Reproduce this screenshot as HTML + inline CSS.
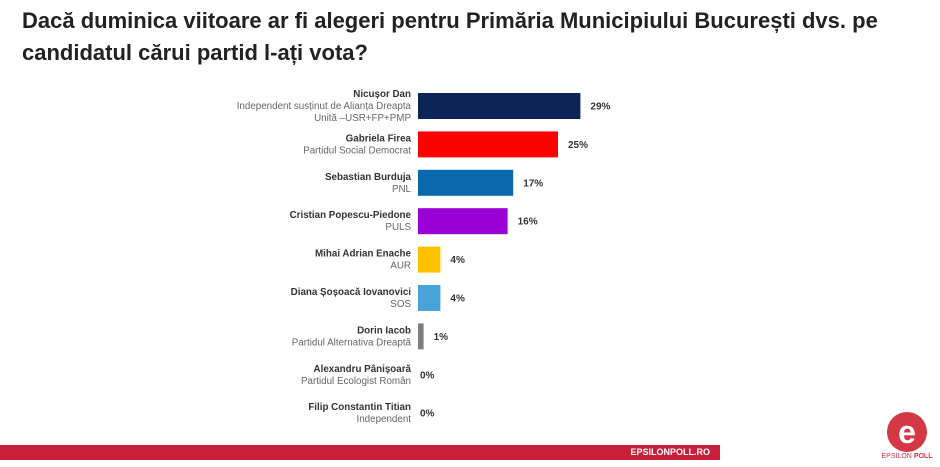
<!DOCTYPE html>
<html><head><meta charset="utf-8"><style>
body{margin:0;width:940px;height:467px;background:#fff;overflow:hidden;font-family:"Liberation Sans",sans-serif;position:relative}
h1{position:absolute;left:22px;top:5px;margin:0;font-size:22px;line-height:32px;font-weight:bold;color:#222;width:900px}
</style></head><body>
<h1>Dacă duminica viitoare ar fi alegeri pentru Primăria Municipiului București dvs. pe candidatul cărui partid l-ați vota?</h1>
<svg id="c" width="940" height="467" style="position:absolute;left:0;top:0"></svg>
<script>
const names=["Nicușor Dan","Gabriela Firea","Sebastian Burduja","Cristian Popescu-Piedone","Mihai Adrian Enache","Diana Șoșoacă Iovanovici","Dorin Iacob","Alexandru Pânișoară","Filip Constantin Titian"];
const parties=[["Independent susținut de Alianța Dreapta","Unită –USR+FP+PMP"],["Partidul Social Democrat"],["PNL"],["PULS"],["AUR"],["SOS"],["Partidul Alternativa Dreaptă"],["Partidul Ecologist Român"],["Independent"]];
const values=[29,25,17,16,4,4,1,0,0];
const colors=["#0d2456","#fe0000","#0a69ae","#9900d6","#ffc000","#4aa3d8","#7f7f7f","#999","#999"];
const svg=document.getElementById('c');const NS='http://www.w3.org/2000/svg';
const x0=418,k=5.6,y0=106,dy=38.4,bh=26;
const xs=v=>v*k, ys=i=>y0+i*dy;
function mk(t,a,txt){const e=document.createElementNS(NS,t);for(const q in a)e.setAttribute(q,a[q]);if(txt!=null)e.textContent=txt;svg.appendChild(e);return e;}
values.forEach((v,i)=>{
 const cy=ys(i);
 const lines=parties[i];
 const top=cy-(lines.length*12+12)/2+9;
 const n=mk('text',{x:411,y:top,'text-anchor':'end','font-size':9.8,'font-weight':'bold',fill:'#333'},names[i]);
 
 
 lines.forEach((l,j)=>{const p=mk('text',{x:411,y:top+12*(j+1),'text-anchor':'end','font-size':9.8,fill:'#666'},l);
  
  });
 if(v>0){const r=mk('rect',{x:x0,y:cy-bh/2,width:xs(v),height:bh,fill:colors[i]});
  
  }
 const t=mk('text',{x:x0+xs(v)+(v>0?10:2),y:cy+3.5,'font-size':10,'font-weight':'bold',fill:'#333'},v+'%');
 
 
});
</script>
<div style="position:absolute;left:0;top:445px;width:720px;height:15px;background:#c8203a"></div>
<div style="position:absolute;left:600px;top:447px;width:110px;text-align:right;color:#fff;font-size:9px;font-weight:bold;line-height:11px">EPSILONPOLL.RO</div>
<svg width="60" height="60" style="position:absolute;left:877px;top:403px">
<circle cx="30" cy="29" r="20" fill="#d43845"/>
<text x="30" y="40" text-anchor="middle" font-size="32" font-weight="bold" fill="#fff" font-family="Liberation Sans">e</text>
</svg>
<div style="position:absolute;left:870px;top:453px;width:74px;text-align:center;font-size:7px;color:#d43845">EPSILON <b>POLL</b></div>
</body></html>
